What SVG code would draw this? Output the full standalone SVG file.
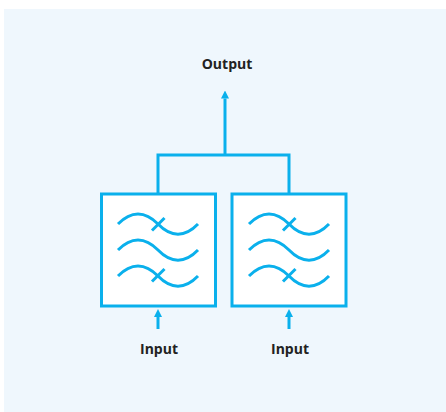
<svg xmlns="http://www.w3.org/2000/svg" width="446" height="412" viewBox="0 0 446 412">
<style>
.box{fill:#ffffff;stroke:#0AB0EC;stroke-width:3}
.wave{fill:none;stroke:#0AB0EC;stroke-width:3;stroke-linecap:butt}
.conn{fill:none;stroke:#0AB0EC;stroke-width:3}
.lbl{font-family:"Open Sans","Noto Sans",sans-serif;font-weight:bold;font-size:14px;fill:#222222;text-anchor:middle}
</style>
<defs>
<marker id="ah" markerWidth="8" markerHeight="8" viewBox="0 0 8 8" refX="0" refY="4" orient="auto" markerUnits="userSpaceOnUse">
<path d="M0,0 L8,4 L0,8 Z" fill="#0AB0EC"/>
</marker>
<g id="waves">
<path class="wave" d="M118,224 C131,210.5 145,210.5 158,224 S185,237.5 198,224"/>
<path class="wave" d="M118,250 C131,236.5 145,236.5 158,250 S185,263.5 198,250"/>
<path class="wave" d="M118,276 C131,262.5 145,262.5 158,276 S185,289.5 198,276"/>
<path class="wave" d="M152,230.5 L164.5,218"/>
<path class="wave" d="M152,281.5 L164.5,269"/>
</g>
</defs>
<rect x="4" y="9" width="442" height="403" fill="#EFF7FD"/>
<g id="connectors">
<path class="conn" d="M158,194 V155 H289 V194"/>
<path class="conn" d="M225,155 V98.5" marker-end="url(#ah)"/>
<path class="conn" d="M158,329 V317" marker-end="url(#ah)"/>
<path class="conn" d="M289,329 V317" marker-end="url(#ah)"/>
</g>
<g id="filter1">
<rect class="box" x="101.5" y="194" width="114" height="112"/>
<use href="#waves"/>
</g>
<g id="filter2">
<rect class="box" x="232" y="194" width="114" height="112"/>
<use href="#waves" transform="translate(131,0)"/>
</g>
<g id="output">
<text class="lbl" x="227" y="69">Output</text>
</g>
<g id="input1">
<text class="lbl" x="159" y="354">Input</text>
</g>
<g id="input2">
<text class="lbl" x="290" y="354">Input</text>
</g>
</svg>
